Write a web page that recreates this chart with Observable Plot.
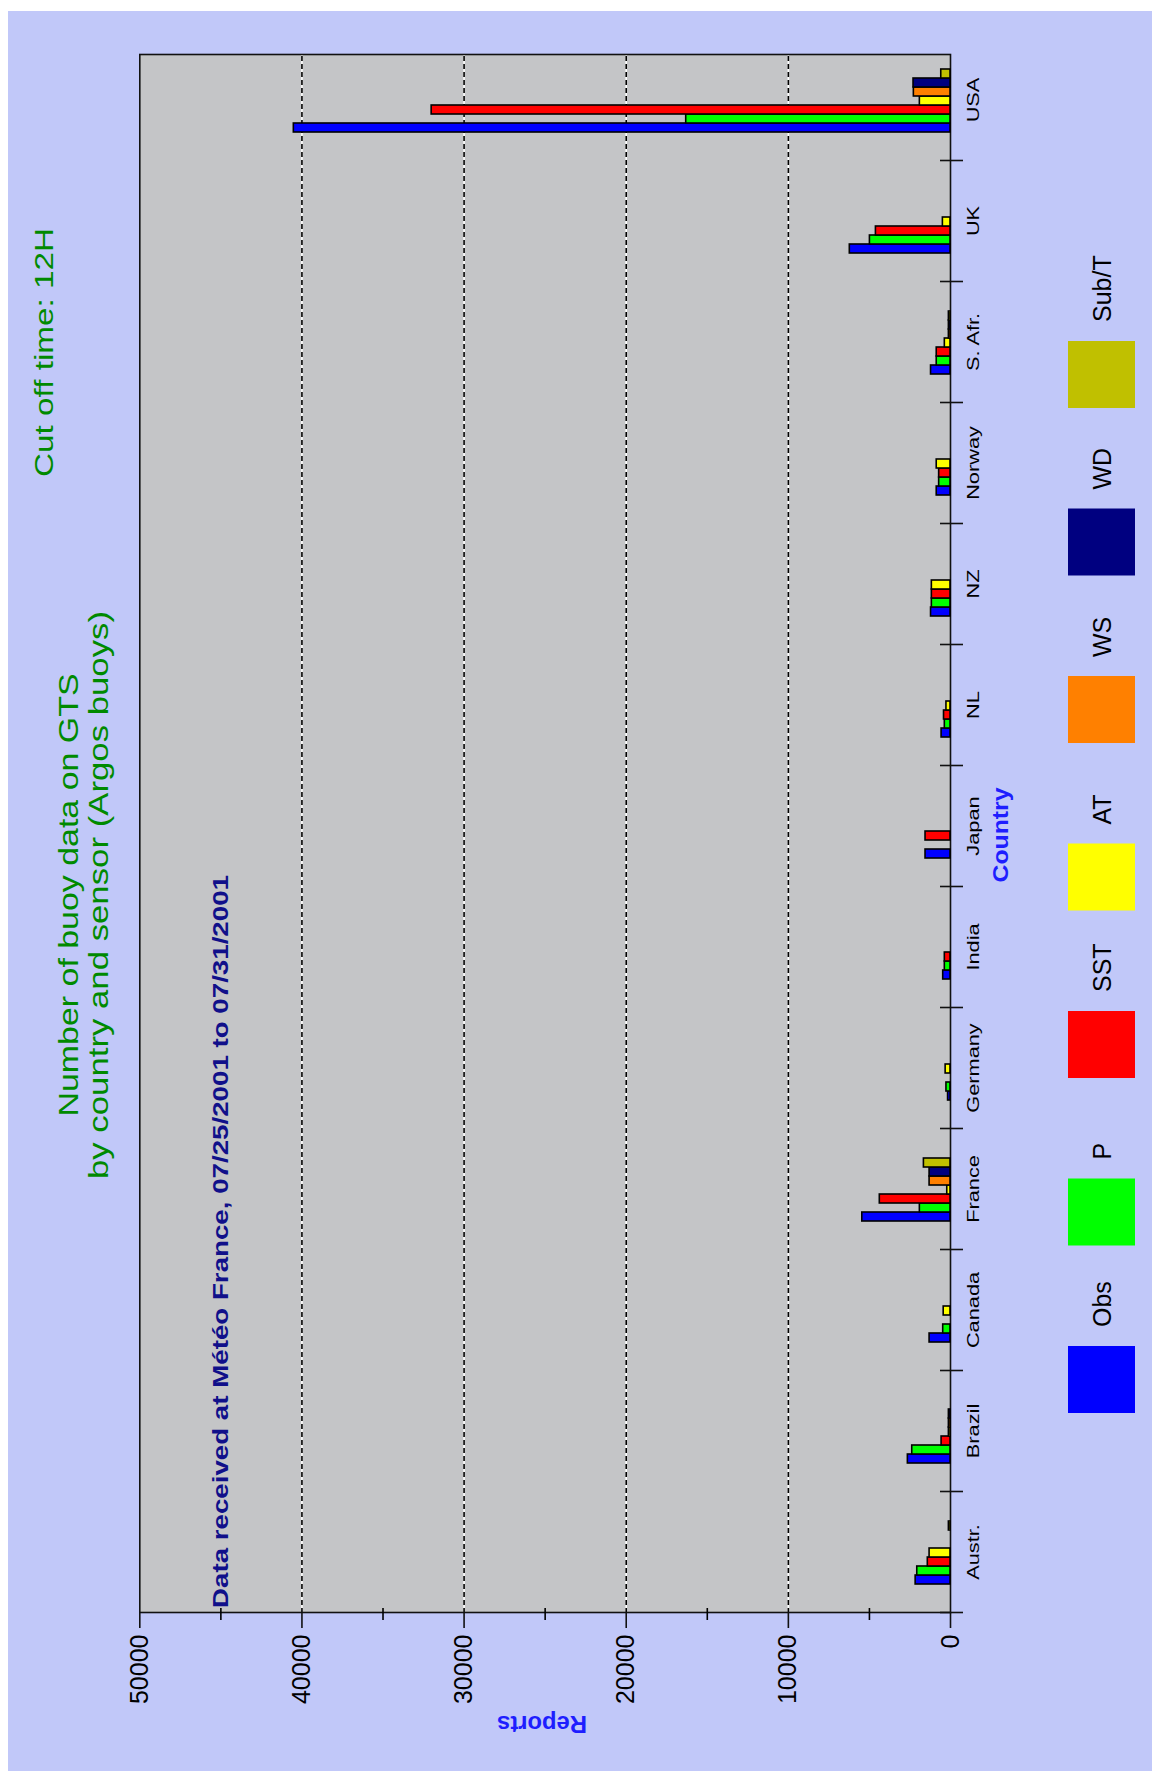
<!DOCTYPE html>
<html>
<head>
<meta charset="utf-8">
<script src="https://cdn.jsdelivr.net/npm/d3@7"></script>
<script src="https://cdn.jsdelivr.net/npm/@observablehq/plot@0.6"></script>
<style>
  html, body { margin: 0; padding: 0; background: #ffffff; overflow: hidden; width: 1152px; height: 1771px; }
  #page { position: absolute; left: 0; top: 0; width: 1771px; height: 1152px;
          transform-origin: 0 0; transform: translate(0px, 1771px) rotate(-90deg); }
  #bg { position: absolute; left: 0; top: 8px; width: 1760px; height: 1144px; background: #c1c8f9; }
  #page svg { position: absolute; left: 0; top: 0; }
</style>
</head>
<body>
<div id="page"><div id="bg"></div></div>
<script>
// ---- data ----
const countries = ["Austr.", "Brazil", "Canada", "France", "Germany", "India", "Japan", "NL", "NZ", "Norway", "S. Afr.", "UK", "USA"];
const sensors = ["Obs", "P", "SST", "AT", "WS", "WD", "Sub/T"];
const sensorColors = ["#0000ff", "#00ff00", "#ff0000", "#ffff00", "#ff8000", "#000080", "#c0c000"];
// values per country, in the order of `countries`
const obs  = [2150, 2630, 1290, 5440, 150, 450, 1540, 550, 1200, 850, 1200, 6210, 40500];
const pres = [2050, 2360,  450, 1890, 250, 350,    0, 350, 1150, 700,  850, 4970, 16300];
const sst  = [1400,  550,    0, 4360,   0, 350, 1540, 400, 1150, 700,  850, 4600, 32000];
const at   = [1290,  100,  420,  200, 300,   0,    0, 250, 1150, 850,  350,  470, 1890];
const ws   = [   0,  100,    0, 1290,   0,   0,    0,   0,    0,   0,  100,    0, 2260];
const wd   = [   0,  100,    0, 1290,   0,   0,    0,   0,    0,   0,  100,    0, 2280];
const subT = [ 100,    0,    0, 1640,   0,   0,    0,   0,    0,   0,  100,    0,  570];
const valueTicks = [0, 10000, 20000, 30000, 40000, 50000];
const minorTicks = [5000, 15000, 25000, 35000, 45000];
const gridValues = [10000, 20000, 30000, 40000];
const titleLines = ["Number of buoy data on GTS", "by country and sensor (Argos buoys)"];
const cutOff = "Cut off time: 12H";
const subtitle = "Data received at Météo France, 07/25/2001 to 07/31/2001";
const xLabel = "Country";
const yLabel = "Reports";

const series = [obs, pres, sst, at, ws, wd, subT];
const data = [];
countries.forEach((c, i) => sensors.forEach((s, j) => {
  if (series[j][i] > 0) data.push({country: c, sensor: s, value: series[j][i]});
}));

// ---- layout (chart drawn in landscape, page rotated -90deg) ----
const W = 1771, H = 1152;
const mTop = 139.3, mBottom = H - 950, mLeft = 158;
const bandEnd = 1731;      // end of the category range
const frameEnd = 1716;     // right edge of the plotting frame
const font = "'Liberation Sans', Arial, sans-serif";
const page = document.getElementById("page");

// background chart: frame, grid, value axis, country axis
const chartA = Plot.plot({
  width: W, height: H,
  marginLeft: mLeft, marginRight: W - frameEnd, marginTop: mTop, marginBottom: mBottom,
  style: {background: "transparent", overflow: "visible", fontFamily: font},
  x: {domain: [0, countries.length], range: [mLeft, bandEnd], axis: null},
  y: {domain: [0, 50000], axis: null},
  marks: [
    Plot.frame({fill: "#c4c5c7", stroke: null}),
    Plot.ruleY(gridValues, {stroke: "white", strokeWidth: 1.6}),
    Plot.ruleY(gridValues, {stroke: "black", strokeWidth: 1.6, strokeDasharray: "5,3"}),
    Plot.frame({stroke: "#111", strokeWidth: 1.6}),
    Plot.axisY({ticks: valueTicks, tickSize: 15, tickPadding: 7, fontSize: 25, tickFormat: d => String(d),
                label: null, stroke: "#111", strokeWidth: 1.6, color: "#000"}),
    Plot.axisY({ticks: minorTicks, tickSize: 12, dx: 5, tickFormat: () => "", label: null, strokeWidth: 1.6}),
    Plot.ruleX(d3.range(countries.length), {x: d => d, insetTop: (950 - mTop) - 10, insetBottom: -13, stroke: "#111", strokeWidth: 1.6}),
    Plot.text(countries, {x: (d, i) => i + 0.5, text: d => d, frameAnchor: "bottom", lineAnchor: "top", dy: 17,
                          fontSize: 16, fill: "#000"})
  ]
});
page.appendChild(chartA);

// bars chart: facets by country, bands by sensor
const chartB = Plot.plot({
  width: W, height: H,
  marginLeft: mLeft, marginRight: W - bandEnd, marginTop: mTop, marginBottom: mBottom,
  style: {background: "transparent", overflow: "visible"},
  fx: {domain: countries, padding: 0, axis: null},
  x: {domain: sensors, paddingInner: 0, paddingOuter: 2.78, axis: null},
  y: {domain: [0, 50000], axis: null},
  color: {domain: sensors, range: sensorColors},
  marks: [
    Plot.barY(data, {fx: "country", x: "sensor", y: "value", fill: "sensor", stroke: "#000", strokeWidth: 1.6})
  ]
});
page.appendChild(chartB);

// stretch country labels like the reference
d3.select(chartA).selectAll("text").each(function() {
  const t = d3.select(this);
  if (countries.includes(this.textContent)) {
    const L = this.getComputedTextLength();
    t.attr("textLength", L * 1.36).attr("lengthAdjust", "spacingAndGlyphs");
  }
});

// ---- texts and legend overlay ----
const svg = d3.select(page).append("svg").attr("width", W).attr("height", H)
  .style("font-family", font).style("overflow", "visible");

function addText(txt, x, y, opts) {
  const t = svg.append("text").text(txt).attr("x", x).attr("y", y)
    .attr("font-size", opts.size).attr("fill", opts.fill)
    .attr("font-weight", opts.bold ? "bold" : "normal")
    .attr("text-anchor", opts.anchor || "start");
  if (opts.len) t.attr("textLength", opts.len).attr("lengthAdjust", "spacingAndGlyphs");
  if (opts.rotate) t.attr("transform", `rotate(${opts.rotate},${x},${y})`);
  return t;
}
addText(cutOff, 1294, 53, {size: 25, fill: "#008a00", len: 249});
addText(titleLines[0], 876, 78, {size: 28, fill: "#008a00", len: 443, anchor: "middle"});
addText(titleLines[1], 876, 108, {size: 28, fill: "#008a00", len: 568, anchor: "middle"});
addText(subtitle, 163, 228, {size: 22, fill: "#10108a", bold: true, len: 733});
addText(xLabel, 936, 1008, {size: 22, fill: "#1e1eff", bold: true, len: 95, anchor: "middle"});
addText(yLabel, 55, 542, {size: 23, fill: "#1e1eff", bold: true, len: 90, anchor: "middle", rotate: -90});

// legend
const legend = svg.append("g");
sensors.forEach((s, i) => {
  const x0 = 358 + i * 167.5;
  legend.append("rect").attr("x", x0).attr("y", 1068).attr("width", 67).attr("height", 67).attr("fill", sensorColors[i]);
  legend.append("text").text(s).attr("x", x0 + 86).attr("y", 1111).attr("font-size", 25).attr("fill", "#000");
});
</script>
</body>
</html>
